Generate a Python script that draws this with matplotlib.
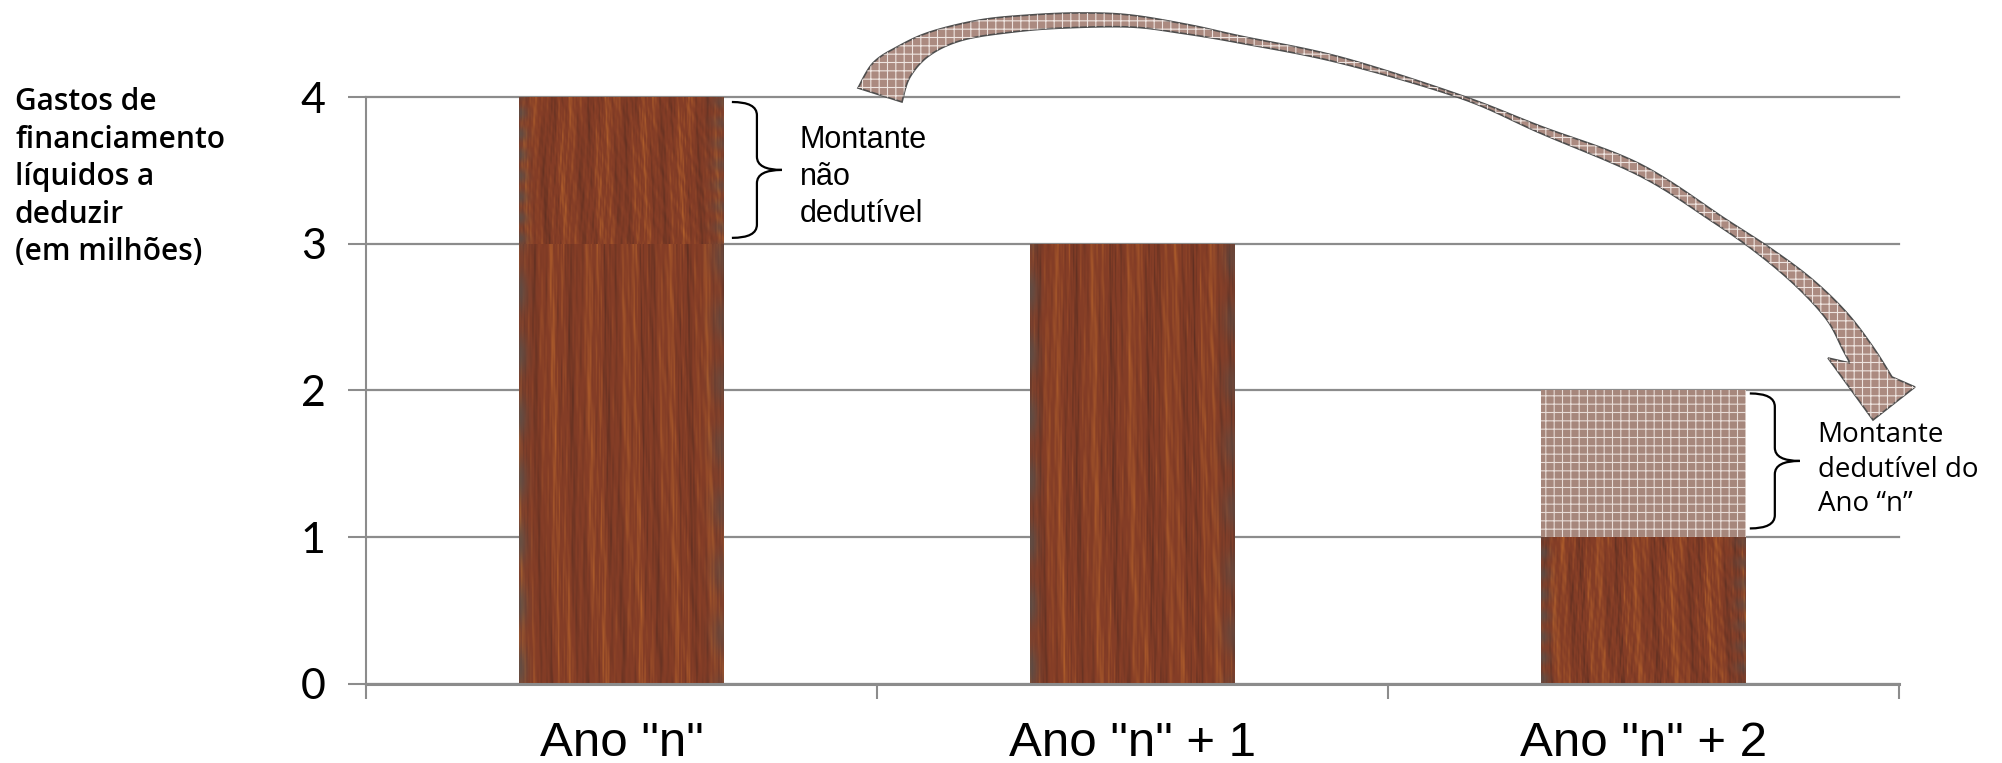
import numpy as np
import matplotlib
matplotlib.use('Agg')
import matplotlib.pyplot as plt
from matplotlib.path import Path
from matplotlib.patches import PathPatch, Polygon

# data
categories = ['Ano "n"', 'Ano "n" + 1', 'Ano "n" + 2']
deductible = [3, 3, 1]          # solid rust part
non_deductible = [1, 0, 0]      # "Montante não dedutível"
carried_over = [0, 0, 1]        # "Montante dedutível do Ano n" (hatched)
yticks = [0, 1, 2, 3, 4]

W, H = 2002, 763
grey = '#8c8c8c'
plt.rcParams['hatch.linewidth'] = 0.8

fig = plt.figure(figsize=(W / 100, H / 100), dpi=100)
ax = fig.add_axes([0.18282, 0.10354, 0.76573, 0.76933])

x = np.arange(len(categories))
bw = 0.4


def rust_texture(w, h, phase):
    xx = np.linspace(0, 1, w)[None, :]
    yy = np.linspace(0, 1, h)[:, None]
    s = (0.45 * np.sin(2 * np.pi * (5.3 * xx + 0.4 * np.sin(2.1 * yy + phase) + phase))
         + 0.35 * np.sin(2 * np.pi * (17.1 * xx + 0.6 * yy + 2 * phase))
         + 0.30 * np.sin(2 * np.pi * (37.7 * xx + 1.1 * np.sin(3 * yy + 5 * xx + phase)))
         + 0.22 * np.sin(2 * np.pi * (73.3 * xx + 2.3 * yy))
         + 0.18 * np.sin(2 * np.pi * (131.0 * xx + 4.1 * yy + phase))
         + 0.15 * np.sin(2 * np.pi * (211.0 * xx + 9.7 * yy * xx))
         + 0.12 * np.sin(2 * np.pi * (11.0 * yy + 29.0 * xx)))
    s = (s - s.min()) / (s.max() - s.min())
    dark = np.array([0.36, 0.18, 0.13])
    mid = np.array([0.52, 0.24, 0.15])
    bright = np.array([0.70, 0.38, 0.17])
    lo = np.clip(1.0 - 2.2 * s, 0, 1)[..., None]
    hi = np.clip(2.2 * s - 1.2, 0, 1)[..., None]
    col = mid * (1 - lo - hi) + dark * lo + bright * hi
    edge = (np.exp(-(xx / 0.04) ** 2) + 0.7 * np.exp(-((1 - xx) / 0.06) ** 2))[..., None]
    edge = np.clip(edge * (0.5 + 0.3 * np.sin(2 * np.pi * 7 * yy + 3 * xx))[..., None], 0, 1)
    col = col * (1 - edge) + np.array([0.35, 0.31, 0.29]) * edge
    return np.clip(col, 0, 1)


bars_low = ax.bar(x, deductible, bw, color='#85391f', zorder=2)
bars_top = ax.bar(x, non_deductible, bw, bottom=deductible, color='#8a3e22', zorder=2)
bars_carry = ax.bar(x, carried_over, bw, bottom=deductible, color='#a6877c',
                    hatch='++', edgecolor='#e8dcd7', linewidth=0, zorder=3)

for i, patch in enumerate(list(bars_low) + list(bars_top)):
    if patch.get_height() == 0:
        continue
    x0, y0 = patch.get_x(), patch.get_y()
    im = ax.imshow(rust_texture(200, 300, 0.23 * i),
                   extent=[x0, x0 + patch.get_width(), y0, y0 + patch.get_height()],
                   aspect='auto', origin='lower', zorder=2.5, interpolation='bilinear')
    im.set_clip_path(patch)

ax.set_xlim(-0.5, len(categories) - 0.5)
ax.set_ylim(0, 4)
ax.set_yticks(yticks)
ax.set_yticklabels([str(v) for v in yticks], fontsize=31, family='Lato')
ax.set_xticks(np.arange(len(categories) + 1) - 0.5)
ax.set_xticklabels([])
ax.set_xticks(x, minor=True)
ax.set_xticklabels(categories, minor=True, fontsize=35.5, family='Liberation Sans')
ax.tick_params(axis='x', which='major', length=11, width=1.5, color=grey, direction='out')
ax.tick_params(axis='x', which='minor', length=0, pad=27)
ax.tick_params(axis='y', length=13, width=1.5, color=grey, pad=16)

ax.yaxis.grid(True, color=grey, linewidth=1.6, zorder=0)
ax.set_axisbelow(True)
for ln in ax.get_ygridlines():
    ln.set_clip_on(False)
for s in ['top', 'right']:
    ax.spines[s].set_visible(False)
ax.spines['left'].set_color(grey)
ax.spines['left'].set_linewidth(1.5)
ax.spines['bottom'].set_color(grey)
ax.spines['bottom'].set_linewidth(2.2)


def brace(x0, xv, xtip, ybot, ytop, r):
    ymid = (ybot + ytop) / 2
    verts = [(x0, ytop), (xv, ytop), (xv, ytop - r),
             (xv, ymid + r), (xv, ymid), (xtip, ymid),
             (xv, ymid), (xv, ymid - r),
             (xv, ybot + r), (xv, ybot), (x0, ybot)]
    codes = [Path.MOVETO, Path.CURVE3, Path.CURVE3,
             Path.LINETO, Path.CURVE3, Path.CURVE3,
             Path.CURVE3, Path.CURVE3,
             Path.LINETO, Path.CURVE3, Path.CURVE3]
    ax.add_patch(PathPatch(Path(verts, codes), facecolor='none', edgecolor='black',
                           linewidth=1.6, clip_on=False, zorder=5))


brace(0.216, 0.265, 0.314, 3.04, 3.966, 0.09)
brace(2.208, 2.257, 2.306, 1.06, 1.98, 0.09)

ax.text(0.349, 3.81, 'Montante\nnão\ndedutível', fontsize=22, family='Liberation Sans',
        va='top', ha='left', linespacing=1.3, zorder=6)
ax.text(2.341, 1.79, 'Montante\ndedutível do\nAno \u201cn\u201d', fontsize=20, family='Open Sans',
        va='top', ha='left', linespacing=1.31, zorder=6)

fig.text(15 / W, 1 - 87 / H, 'Gastos de\nfinanciamento\nlíquidos a\ndeduzir\n(em milhões)',
         fontsize=21.5, family='Open Sans', fontweight='semibold', va='top', ha='left',
         linespacing=1.33)


# curved block arrow (pixel coordinates of the picture)
def smooth(pts, n=12):
    p = np.array(pts, float)
    p = np.vstack([p[0], p, p[-1]])
    out = []
    t = np.linspace(0, 1, n, endpoint=False)[:, None]
    for i in range(1, len(p) - 2):
        p0, p1, p2, p3 = p[i - 1], p[i], p[i + 1], p[i + 2]
        out.append(0.5 * (2 * p1 + (-p0 + p2) * t + (2 * p0 - 5 * p1 + 4 * p2 - p3) * t ** 2
                          + (-p0 + 3 * p1 - 3 * p2 + p3) * t ** 3))
    out.append(p[-2][None, :])
    return np.vstack(out)


outer = [(858, 88), (873, 63), (897, 47), (930, 32), (980, 20), (1030, 15), (1080, 13),
         (1130, 15), (1190, 25), (1240, 36), (1340, 57), (1460, 95), (1540, 126), (1640, 164),
         (1727, 220), (1773, 250), (1813, 280), (1847, 313), (1873, 347), (1892, 377)]
inner = [(902, 102), (910, 77), (930, 55), (963, 40), (1013, 32), (1063, 28), (1130, 27),
         (1180, 33), (1240, 43), (1340, 63), (1460, 98), (1540, 133), (1640, 176), (1710, 220),
         (1757, 253), (1797, 287), (1827, 320), (1843, 350), (1850, 363)]
head = [(1915, 387), (1873, 420), (1828, 358)]
poly = np.vstack([smooth(outer), np.array(head, float), smooth(inner)[::-1]])
poly_fig = np.column_stack([poly[:, 0] / W, 1 - poly[:, 1] / H])

fig.patches.append(Polygon(poly_fig, closed=True, transform=fig.transFigure,
                           facecolor='#ab8a80', edgecolor='#4d4d4d', linewidth=1.2, zorder=7))
fig.patches.append(Polygon(poly_fig, closed=True, transform=fig.transFigure,
                           facecolor='none', edgecolor='#eee4e0', hatch='++', linewidth=0, zorder=8))

fig.savefig('out.png', dpi=100)
